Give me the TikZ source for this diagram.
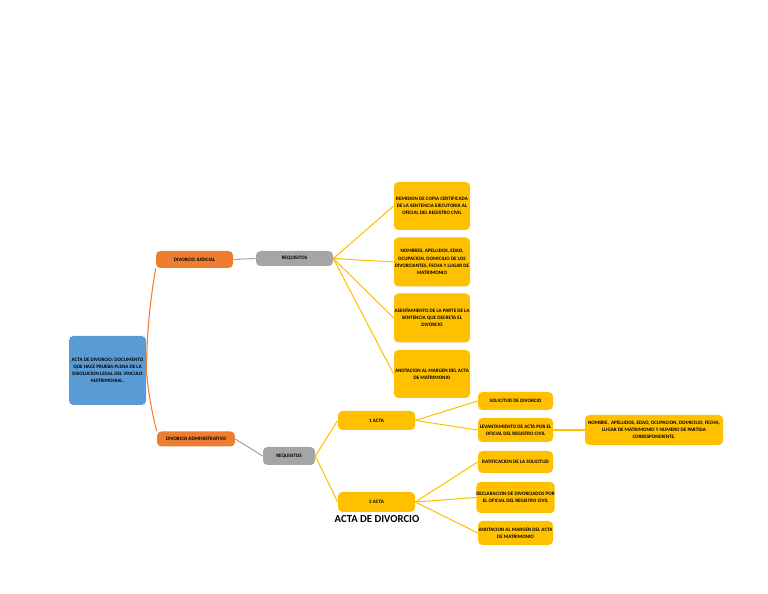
\documentclass[tikz,border=0pt]{standalone}
\usepackage{fontspec}
\setmainfont{Carlito}
\definecolor{azul}{HTML}{5B9BD5}
\definecolor{naranja}{HTML}{ED7D31}
\definecolor{gris}{HTML}{A5A5A5}
\definecolor{amarillo}{HTML}{FFC000}
\tikzset{
  caja/.style={rounded corners=2.5pt, inner sep=0pt, align=center,
    font=\fontsize{2.9}{4.1}\selectfont\bfseries},
  cajaazul/.style={caja, fill=azul},
  cajanaranja/.style={caja, fill=naranja},
  cajagris/.style={caja, fill=gris},
  cajaamarilla/.style={caja, fill=amarillo},
  lineanaranja/.style={draw=naranja, line width=0.6pt},
  lineagris/.style={draw=gris, line width=0.6pt},
  lineaamarilla/.style={draw=amarillo, line width=0.6pt}
}
\begin{document}
\begin{tikzpicture}[x=0.02cm, y=-0.02cm]
		\useasboundingbox (0,0) rectangle (768,594);

		% Acta de divorcio
		\node[cajaazul, minimum width=77*0.02cm, minimum height=69*0.02cm] (acta) at (107.5,370.5)
		  {ACTA DE DIVORCIO: DOCUMENTO\\ QUE HACE PRUEBA PLENA DE LA\\ DISOLUCION LEGAL DEL VINCULO\\ MATRIMONIAL.};

		% Divorcio judicial
		\node[cajanaranja, minimum width=77*0.02cm, minimum height=17*0.02cm] (judicial) at (194.5,259.5) {DIVORCIO JUDICIAL};
		\node[cajagris, minimum width=77*0.02cm, minimum height=15*0.02cm] (reqjud) at (294.5,258.5) {REQUISITOS};

		\node[cajaamarilla, minimum width=76*0.02cm, minimum height=48*0.02cm] (remision) at (432,206)
		  {REMISION DE COPIA CERTIFICADA\\ DE LA SENTENCIA EJECUTORIA AL\\ OFICIAL DEL REGISTRO CIVIL};
		\node[cajaamarilla, minimum width=76*0.02cm, minimum height=49*0.02cm] (nombres) at (432,262)
		  {NOMBRES, APELLIDOS, EDAD,\\ OCUPACION, DOMICILIO DE LOS\\ DIVORCIANTES, FECHA Y LUGAR DE\\ MATRIMONIO};
		\node[cajaamarilla, minimum width=76*0.02cm, minimum height=49*0.02cm] (asentamiento) at (432,318)
		  {ASENTAMIENTO DE LA PARTE DE LA\\ SENTENCIA QUE DECRETA EL\\ DIVORCIO};
		\node[cajaamarilla, minimum width=76*0.02cm, minimum height=48*0.02cm] (anotjud) at (432,374)
		  {ANOTACION AL MARGEN DEL ACTA\\ DE MATRIMONIO};

		% Divorcio administrativo
		\node[cajanaranja, minimum width=78*0.02cm, minimum height=15*0.02cm] (admin) at (196,439) {DIVORCIO ADMINISTRATIVO};
		\node[cajagris, minimum width=52*0.02cm, minimum height=18*0.02cm] (reqadm) at (289,456) {REQUISITOS};

		\node[cajaamarilla, minimum width=77*0.02cm, minimum height=19*0.02cm] (acta1) at (376.5,420.5) {1 ACTA};
		\node[cajaamarilla, minimum width=77*0.02cm, minimum height=20*0.02cm] (acta2) at (376.5,502) {2 ACTA};
		\node[font=\fontsize{6.1}{7}\selectfont\bfseries] (titulo) at (377,519.5) {ACTA DE DIVORCIO};

		\node[cajaamarilla, minimum width=75*0.02cm, minimum height=18*0.02cm] (solicitud) at (515.5,401) {SOLICITUD DE DIVORCIO};
		\node[cajaamarilla, minimum width=75*0.02cm, minimum height=24*0.02cm] (levantamiento) at (515.5,430)
		  {LEVANTAMIENTO DE ACTA POR EL\\ OFICIAL DEL REGISTRO CIVIL};
		\node[cajaamarilla, minimum width=138*0.02cm, minimum height=30*0.02cm] (nombre) at (654,430)
		  {NOMBRE, \ APELLIDOS, EDAD, OCUPACION, DOMICILIO, FECHA,\\ LUGAR DE MATRIMONIO Y NUMERO DE PARTIDA\\ CORRESPONDIENTE.};

		\node[cajaamarilla, minimum width=75*0.02cm, minimum height=22*0.02cm] (ratificacion) at (515.5,462) {RATIFICACION DE LA SOLICITUD};
		\node[cajaamarilla, minimum width=75*0.02cm, minimum height=31*0.02cm] (declaracion) at (515.5,497.5)
		  {DECLARACION DE DIVORCIADOS POR\\ EL OFICIAL DEL REGISTRO CIVIL};
		\node[cajaamarilla, minimum width=75*0.02cm, minimum height=24*0.02cm] (anotadm) at (515.5,533)
		  {ANOTACION AL MARGEN DEL ACTA\\ DE MATRIMONIO};

		% Conectores
		\draw[lineanaranja] (acta.east) to[bend left=4] (judicial.south west);
		\draw[lineanaranja] (acta.east) to[bend right=4] (admin.north west);
		\draw[lineagris] (judicial.east) -- (reqjud.west);
		\draw[lineagris] (admin.east) -- (reqadm.west);
		\foreach \n in {remision, nombres, asentamiento, anotjud}
		  \draw[lineaamarilla] (reqjud.east) -- (\n.west);
		\foreach \n in {acta1, acta2}
		  \draw[lineaamarilla] (reqadm.east) -- (\n.west);
		\foreach \n in {solicitud, levantamiento}
		  \draw[lineaamarilla] (acta1.east) -- (\n.west);
		\draw[lineaamarilla] (levantamiento.east) -- (nombre.west);
		\foreach \n in {ratificacion, declaracion, anotadm}
		  \draw[lineaamarilla] (acta2.east) -- (\n.west);

	\end{tikzpicture}
\end{document}
